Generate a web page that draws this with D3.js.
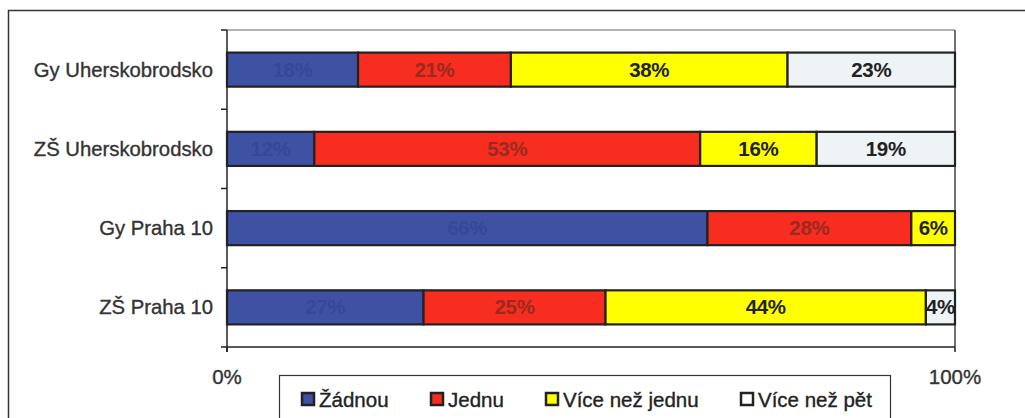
<!DOCTYPE html>
<html>
<head>
<meta charset="utf-8">
<script src="https://cdn.jsdelivr.net/npm/d3@7"></script>
<style>
  html, body { margin: 0; padding: 0; background: #fff; }
  svg { display: block; font-family: "Liberation Sans", Arial, Helvetica, sans-serif; }
</style>
</head>
<body>
<svg id="chart" width="1025" height="418"></svg>
<script>
// ---- data ----
const categories = ["Gy Uherskobrodsko", "ZŠ Uherskobrodsko", "Gy Praha 10", "ZŠ Praha 10"];
const seriesNames = ["Žádnou", "Jednu", "Více než jednu", "Více než pět"];
const zadnou       = [18, 12, 66, 27];
const jednu        = [21, 53, 28, 25];
const viceNezJednu = [38, 16, 6, 44];
const viceNezPet   = [23, 19, 0, 4];
const xTickLabels  = ["0%", "100%"];
const xTickValues  = [0, 100];

const seriesValues = [zadnou, jednu, viceNezJednu, viceNezPet];
const fills = ["#3f51a3", "#f72d20", "#ffff00", "#eef3f6"];
const labelColors = ["#37479a", "#9a2a1e", "#222", "#222"];

const table = categories.map((c, i) => {
  const row = { category: c };
  seriesNames.forEach((s, j) => row[s] = seriesValues[j][i]);
  return row;
});

const svg = d3.select("#chart");
const m = { left: 227, right: 955, top: 30, bottom: 347 };

// outer frame
svg.append("path")
  .attr("d", "M8.5,418 L8.5,10.5 L1025,10.5")
  .attr("fill", "none").attr("stroke", "#333").attr("stroke-width", 1.5);

const x = d3.scaleLinear().domain([0, 100]).range([m.left, m.right]);
const y = d3.scaleBand().domain(categories).range([m.top, m.bottom])
  .paddingInner(0.57).paddingOuter(0.285);

// plot area border
svg.append("line").attr("x1", m.left).attr("x2", m.right).attr("y1", m.top).attr("y2", m.top)
  .attr("stroke", "#999").attr("stroke-width", 1.5);
svg.append("line").attr("x1", m.right).attr("x2", m.right).attr("y1", m.top).attr("y2", m.bottom)
  .attr("stroke", "#444").attr("stroke-width", 1.5);

const stack = d3.stack().keys(seriesNames)(table);

const groups = svg.append("g").selectAll("g").data(stack).join("g");
groups.each(function(layer, j) {
  const g = d3.select(this);
  const segs = layer.filter(d => d[1] - d[0] > 0);
  g.selectAll("rect").data(segs).join("rect")
    .attr("x", d => x(d[0]))
    .attr("y", d => y(d.data.category))
    .attr("width", d => x(d[1]) - x(d[0]))
    .attr("height", y.bandwidth())
    .attr("fill", fills[j])
    .attr("stroke", "#222")
    .attr("stroke-width", 2.2);
  g.selectAll("text").data(segs).join("text")
    .attr("x", d => (x(d[0]) + x(d[1])) / 2)
    .attr("y", d => y(d.data.category) + y.bandwidth() / 2 + 7)
    .attr("text-anchor", "middle")
    .attr("font-size", 20.5)
    .attr("font-weight", "bold")
    .attr("letter-spacing", -0.3)
    .attr("fill", labelColors[j])
    .text(d => (d[1] - d[0]) + "%");
});

// y axis
const yAxisG = svg.append("g").attr("transform", `translate(${m.left},0)`);
yAxisG.append("line").attr("x1", 0).attr("x2", 0).attr("y1", m.top).attr("y2", m.bottom + 5)
  .attr("stroke", "#222").attr("stroke-width", 1.5);
const yTicks = categories.map(c => y(c) - y.step() * y.paddingInner() / 2).concat([m.bottom]);
yAxisG.selectAll("line.tick").data(yTicks).join("line").attr("class", "tick")
  .attr("x1", -6).attr("x2", 0).attr("y1", d => d).attr("y2", d => d)
  .attr("stroke", "#222").attr("stroke-width", 1.5);
yAxisG.selectAll("text").data(categories).join("text")
  .attr("x", -14)
  .attr("y", d => y(d) + y.bandwidth() / 2 + 7)
  .attr("text-anchor", "end")
  .attr("font-size", 20.3)
  .attr("fill", "#333")
  .attr("stroke", "#333").attr("stroke-width", 0.35)
  .text(d => d);

// x axis
const xAxisG = svg.append("g").attr("transform", `translate(0,${m.bottom})`);
xAxisG.append("line").attr("x1", m.left).attr("x2", m.right).attr("y1", 0).attr("y2", 0)
  .attr("stroke", "#222").attr("stroke-width", 1.5);
xAxisG.selectAll("line.tick").data(xTickValues).join("line").attr("class", "tick")
  .attr("x1", d => x(d)).attr("x2", d => x(d)).attr("y1", 0).attr("y2", 5)
  .attr("stroke", "#222").attr("stroke-width", 1.5);
xAxisG.selectAll("text").data(xTickValues).join("text")
  .attr("x", d => x(d))
  .attr("y", 37)
  .attr("text-anchor", "middle")
  .attr("font-size", 20.5)
  .attr("fill", "#333")
  .attr("stroke", "#333").attr("stroke-width", 0.35)
  .text((d, i) => xTickLabels[i]);

// legend
const legend = svg.append("g");
legend.append("rect").attr("x", 279.5).attr("y", 375.5).attr("width", 611).attr("height", 60)
  .attr("fill", "#fff").attr("stroke", "#333").attr("stroke-width", 1.2);
const legendX = [301, 430, 545, 740];
seriesNames.forEach((s, j) => {
  legend.append("rect").attr("x", legendX[j] + 1).attr("y", 393).attr("width", 12).attr("height", 12)
    .attr("fill", fills[j] === "#eef3f6" ? "#fff" : fills[j]).attr("stroke", "#222").attr("stroke-width", 2.5);
  legend.append("text").attr("x", legendX[j] + 18).attr("y", 406.5)
    .attr("font-size", 20.5).attr("fill", "#222")
    .attr("stroke", "#222").attr("stroke-width", 0.35)
    .text(s);
});
</script>
</body>
</html>
